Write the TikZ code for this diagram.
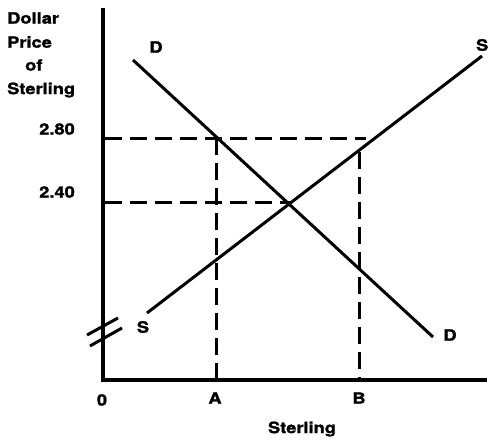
\documentclass[tikz,border=0pt]{standalone}
\usepackage{fontspec}
\setmainfont{TeX Gyre Heros}[FakeStretch=1.18, BoldFeatures={FakeBold=1.6}]
\begin{document}
\begin{tikzpicture}[x=1pt,y=-1pt,
  lbl/.style={font=\bfseries\fontsize{15.5}{15.5}\selectfont, inner sep=0pt},
  axis/.style={line width=3.2pt},
  curve/.style={line width=3pt},
  guide/.style={line width=3pt, dash pattern=on 17pt off 8pt}]
\useasboundingbox (0,0) rectangle (489,440);
% axes
\coordinate (top) at (103,8);
\coordinate (origin) at (103,380);
\coordinate (xend) at (487,380);
\draw[axis] (top) -- (origin) -- (xend);
% axis break
\coordinate (b1a) at (87,335); \coordinate (b1b) at (118,318);
\coordinate (b2a) at (90,346); \coordinate (b2b) at (122,328);
\draw[curve] (b1a) -- (b1b);
\draw[curve] (b2a) -- (b2b);
% curves
\coordinate (d1) at (133,60); \coordinate (d2) at (433,337);
\coordinate (s1) at (147,313); \coordinate (s2) at (482,56);
\draw[curve] (d1) -- (d2);
\draw[curve] (s1) -- (s2);
% guides
\coordinate (y280) at (105,138); \coordinate (h280e) at (366,138);
\coordinate (y240) at (105,202); \coordinate (eq) at (290,202);
\coordinate (Atop) at (216,138); \coordinate (Abot) at (216,378);
\coordinate (Btop) at (359,152); \coordinate (Bbot) at (359,378);
\draw[guide] (y280) -- (h280e);
\draw[guide] (y240) -- (eq);
\draw[guide] (Atop) -- (Abot);
\draw[guide] (Btop) -- (Bbot);
% labels
\node[lbl, anchor=west] (l1) at (7,18) {Dollar};
\node[lbl, anchor=west] (l2) at (7,42) {Price};
\node[lbl, anchor=west] (l3) at (25,65) {of};
\node[lbl, anchor=west] (l4) at (7,90) {Sterling};
\node[lbl] (p280) at (57,129) {2.80};
\node[lbl] (p240) at (57,192) {2.40};
\node[lbl] (Dtop) at (156,47) {D};
\node[lbl, anchor=east] (Stop) at (488.5,45) {S};
\node[lbl] (Slow) at (143,327) {S};
\node[lbl] (Dlow) at (450,335) {D};
\node[lbl] (zero) at (102,400) {0};
\node[lbl] (A) at (215,398) {A};
\node[lbl] (B) at (359,398) {B};
\node[lbl] (xlab) at (302,429) {Sterling};
\end{tikzpicture}
\end{document}
